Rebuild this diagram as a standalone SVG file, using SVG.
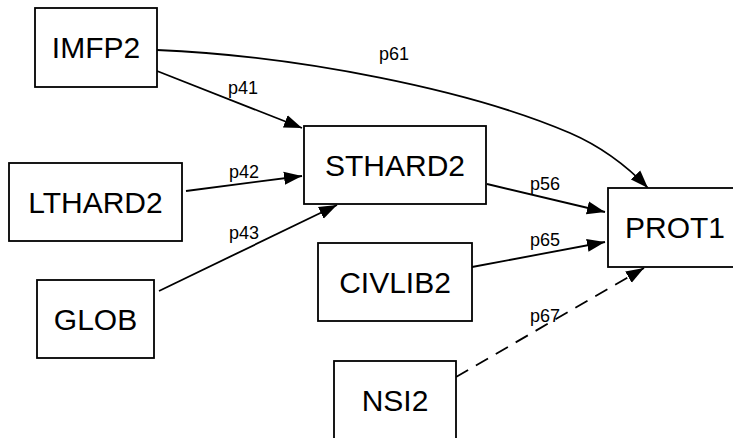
<svg xmlns="http://www.w3.org/2000/svg" width="733" height="438" viewBox="0 0 733 438">
<style>
.box{fill:#fff;stroke:#000;stroke-width:1.8}
.nl{font-family:"Liberation Sans",Arial,sans-serif;font-size:30px;text-anchor:middle;fill:#000}
.el{font-family:"Liberation Sans",Arial,sans-serif;font-size:18px;text-anchor:middle;fill:#000}
.e{fill:none;stroke:#000;stroke-width:1.8}
.d{stroke-dasharray:14,9}
</style>
<defs>
<marker id="ah" markerUnits="userSpaceOnUse" markerWidth="20" markerHeight="14" refX="18" refY="7" orient="auto">
<path d="M0,0.5 L18,7 L0,13.5 z" fill="#000"/>
</marker>
</defs>
<rect width="733" height="438" fill="#fff"/>
<g id="connectors">
<path class="e" d="M157,71 L302,128" marker-end="url(#ah)"/>
<path class="e" d="M186,191 L302,176" marker-end="url(#ah)"/>
<path class="e" d="M159,291 L337,205" marker-end="url(#ah)"/>
<path class="e" d="M157,50 C300,56 470,90 570,133 C600,146 625,164 648,188" marker-end="url(#ah)"/>
<path class="e" d="M487,184 L605,212" marker-end="url(#ah)"/>
<path class="e" d="M472,267 L605,242" marker-end="url(#ah)"/>
<path class="e d" d="M456,377 L644,268" marker-end="url(#ah)"/>
<text class="el" x="243" y="94">p41</text>
<text class="el" x="244" y="178">p42</text>
<text class="el" x="244" y="239">p43</text>
<text class="el" x="394" y="60">p61</text>
<text class="el" x="545" y="190">p56</text>
<text class="el" x="545" y="246">p65</text>
<text class="el" x="545" y="322">p67</text>
</g>
<g id="IMFP2"><rect class="box" x="35" y="8" width="122" height="79"/><text class="nl" x="96" y="58">IMFP2</text></g>
<g id="LTHARD2"><rect class="box" x="9" y="163" width="173" height="78"/><text class="nl" x="95.5" y="212.5">LTHARD2</text></g>
<g id="STHARD2"><rect class="box" x="304" y="126" width="182" height="78"/><text class="nl" x="395" y="175.5">STHARD2</text></g>
<g id="PROT1"><rect class="box" x="608" y="188" width="140" height="79"/><text class="nl" x="675" y="238">PROT1</text></g>
<g id="GLOB"><rect class="box" x="37" y="280" width="117" height="78"/><text class="nl" x="95.5" y="329.5">GLOB</text></g>
<g id="CIVLIB2"><rect class="box" x="318" y="243" width="154" height="78"/><text class="nl" x="395" y="292.5">CIVLIB2</text></g>
<g id="NSI2"><rect class="box" x="334" y="361" width="122" height="79"/><text class="nl" x="395" y="410.5">NSI2</text></g>
</svg>
